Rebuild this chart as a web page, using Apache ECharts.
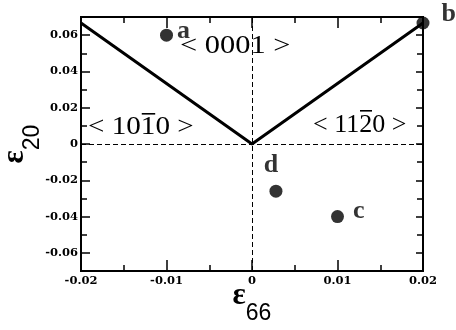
<!DOCTYPE html>
<html>
<head>
<meta charset="utf-8">
<script src="https://cdn.jsdelivr.net/npm/echarts@6/dist/echarts.min.js"></script>
<style>
  html, body { margin: 0; padding: 0; background: #fff; }
  #chart { width: 456px; height: 330px; }
</style>
</head>
<body>
<div id="chart"></div>
<script>
// Axis ranges and tick positions
const xMin = -0.02, xMax = 0.02;
const yMin = -0.07, yMax = 0.07;
const xMajorTicks = [-0.02, -0.01, 0, 0.01, 0.02];
const xMinorTicks = [-0.015, -0.005, 0.005, 0.015];
const yMajorTicks = [-0.06, -0.04, -0.02, 0, 0.02, 0.04, 0.06];
const yMinorTicks = [-0.05, -0.03, -0.01, 0.01, 0.03, 0.05];

// Phase boundary (V shape)
const boundaryX = [-0.02, 0, 0.02];
const boundaryY = [0.0667, 0, 0.0667];

// Labelled strain states
const pointNames = ['a', 'b', 'c', 'd'];
const pointX = [-0.01, 0.02, 0.01, 0.0028];
const pointY = [0.06, 0.0667, -0.04, -0.026];

// Dashed reference lines
const refX = 0, refY = 0;

// Direction labels of the regions (the third digit of the last two carries a bar)
const regionLabels = ['< 0001 >', '< 1010 >', '< 1120 >'];

const black = '#000';
const serif = '"Liberation Serif", "Times New Roman", serif';
const tickFont = '"DejaVu Serif", serif';
const sans = '"Liberation Sans", Arial, sans-serif';

function fmt(v) { return v === 0 ? '0' : v.toFixed(2); }

function makeAxis(kind, position, ticks, len, labelled, extra) {
  const ax = {
    type: 'value',
    position: position,
    min: kind === 'x' ? xMin : yMin,
    max: kind === 'x' ? xMax : yMax,
    splitLine: { show: false },
    axisLine: { show: true, onZero: false, lineStyle: { color: black, width: 2 } },
    axisTick: { show: true, inside: true, length: len, customValues: ticks,
                lineStyle: { color: black, width: 1.5 } },
    axisLabel: labelled
      ? { show: true, customValues: ticks, formatter: fmt, color: black,
          fontFamily: tickFont, fontWeight: 'bold', fontSize: 11.5,
          margin: kind === 'x' ? 4 : 3 }
      : { show: false }
  };
  return Object.assign(ax, extra || {});
}

// Symbol with subscript, used for both axis titles
const strainRich = {
  e: { fontFamily: serif, fontWeight: 'bold', fontSize: 31, color: black, padding: [0, 0, 18, 0] },
  s: { fontFamily: sans, fontSize: 23, color: black, padding: [18, 0, 0, 0] }
};

const boundaryData = boundaryX.map((x, i) => [x, boundaryY[i]]);

const labelPlacement = {
  a: { position: 'right', distance: 4, offset: [0, -4] },
  b: { position: 'right', distance: 12, offset: [0, -9] },
  c: { position: 'right', distance: 9, offset: [0, -5] },
  d: { position: 'top', distance: 6, offset: [-5, 0] }
};

const pointData = pointNames.map((n, i) => ({
  name: n,
  value: [pointX[i], pointY[i]],
  label: Object.assign({
    show: true, formatter: n, color: black,
    fontFamily: serif, fontWeight: 'bold', fontSize: 26
  }, labelPlacement[n])
}));

// A region label: text, optionally with a bar over one digit
function regionText(text, left, top, sx, bar) {
  const children = [
    { type: 'text', x: 0, y: 0,
      style: { text: text, font: '26px ' + serif, fill: black } }
  ];
  if (bar) {
    children.push({ type: 'rect', shape: { x: bar[0], y: bar[1], width: bar[2], height: 1.6 },
                    style: { fill: black } });
  }
  return { type: 'group', left: left, top: top, scaleX: sx, z: 10, children: children };
}

const chart = echarts.init(document.getElementById('chart'), null, { renderer: 'canvas' });

chart.setOption({
  animation: false,
  backgroundColor: '#fff',
  grid: { left: 81, right: 33, top: 17, bottom: 59, containLabel: false, outerBoundsMode: 'none' },
  xAxis: [
    makeAxis('x', 'bottom', xMajorTicks, 11, true, {
      name: '{e|ε}{s|66}', nameLocation: 'middle', nameGap: 9, nameMoveOverlap: false,
      nameTextStyle: { rich: strainRich }
    }),
    makeAxis('x', 'bottom', xMinorTicks, 6, false),
    makeAxis('x', 'top', xMajorTicks, 11, false),
    makeAxis('x', 'top', xMinorTicks, 6, false)
  ],
  yAxis: [
    makeAxis('y', 'left', yMajorTicks, 9, true, {
      name: '{e|ε}{s|20}', nameLocation: 'middle', nameRotate: 90, nameGap: 33, nameMoveOverlap: false,
      nameTextStyle: { rich: strainRich }
    }),
    makeAxis('y', 'left', yMinorTicks, 6, false),
    makeAxis('y', 'right', yMajorTicks, 7, false),
    makeAxis('y', 'right', yMinorTicks, 6, false)
  ],
  series: [
    {
      type: 'line',
      data: boundaryData,
      symbol: 'none',
      lineStyle: { color: black, width: 3 },
      z: 3,
      markLine: {
        silent: true,
        symbol: 'none',
        label: { show: false },
        lineStyle: { color: black, width: 1, type: [5, 3] },
        data: [{ xAxis: refX }, { yAxis: refY }]
      }
    },
    {
      type: 'scatter',
      data: pointData,
      symbol: 'circle',
      symbolSize: 13,
      clip: false,
      itemStyle: { color: black },
      z: 4
    }
  ],
  graphic: [
    regionText(regionLabels[0], 180, 33, 1.17, null),
    regionText(regionLabels[1], 88, 113, 1.12, [48, -1, 12]),
    regionText(regionLabels[2], 313, 110, 1.0, [47, -2, 12])
  ]
});
</script>
</body>
</html>
